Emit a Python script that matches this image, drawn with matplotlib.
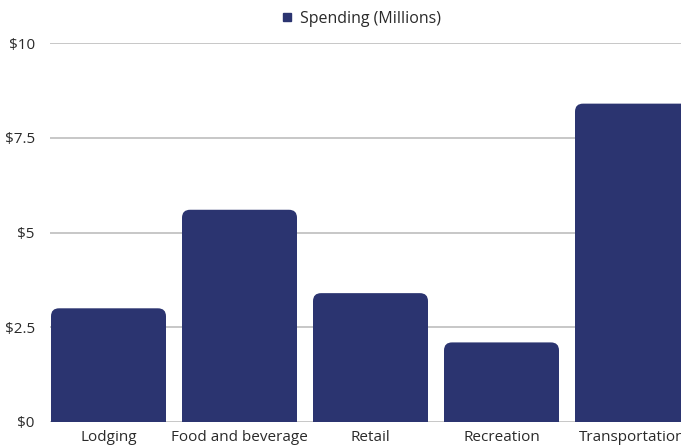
import matplotlib
matplotlib.use('Agg')
import matplotlib.pyplot as plt
from matplotlib.patches import FancyBboxPatch
from matplotlib.lines import Line2D

categories = ['Lodging', 'Food and beverage', 'Retail', 'Recreation', 'Transportation']
spending = [3.0, 5.6, 3.4, 2.1, 8.4]
yticks = [0, 2.5, 5, 7.5, 10]
ytick_labels = ['$0', '$2.5', '$5', '$7.5', '$10']

bar_color = '#2b3470'
text_color = '#2a2a2a'
plt.rcParams['font.family'] = ['Open Sans', 'DejaVu Sans']

W, H = 681, 447
fig = plt.figure(figsize=(W / 100, H / 100), dpi=100)
left, right, bottom, top = 50, 681, 422, 43
ax = fig.add_axes([left / W, (H - bottom) / H, (right - left) / W, (bottom - top) / H])

step = 131.0
width = 115 / step
x0 = -(108.5 - left) / step
x1 = (right - 108.5) / step
ax.set_xlim(x0, x1)
ax.set_ylim(0, 10)

# rounded top corners, bottom pushed below the axis so it is clipped square
px_y = (bottom - top) / 10.0
r = 8 / step
aspect = step / px_y
for i, v in enumerate(spending):
    p = FancyBboxPatch((i - width / 2, -1), width, v + 1,
                       boxstyle='round,pad=0,rounding_size=%f' % r,
                       mutation_aspect=aspect, fc=bar_color, ec='none',
                       zorder=3, clip_on=True)
    ax.add_patch(p)

ax.set_yticks(yticks)
ax.set_yticklabels(ytick_labels)
ax.set_xticks(range(len(categories)))
ax.set_xticklabels(categories)
ax.tick_params(axis='both', length=0, labelsize=11, colors=text_color)
ax.tick_params(axis='y', pad=11)
ax.tick_params(axis='x', pad=6)
ax.grid(axis='y', color='#bdbdbd', lw=1.2, zorder=0)
ax.set_axisbelow(True)
for s in ax.spines.values():
    s.set_visible(False)

handle = Line2D([], [], marker='s', ls='none', color=bar_color, markersize=6)
fig.legend([handle], ['Spending (Millions)'], loc='center', bbox_to_anchor=(360 / W, 1 - 19 / H),
           frameon=False, fontsize=11.5, handletextpad=0.3, handlelength=1.0,
           labelcolor=text_color)

fig.savefig('out.png', dpi=100)
